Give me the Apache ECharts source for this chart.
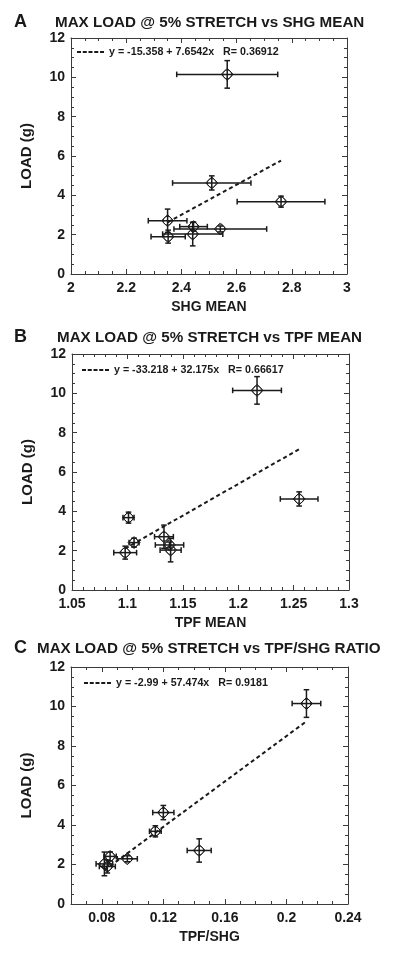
<!DOCTYPE html>
<html>
<head>
<meta charset="utf-8">
<script src="https://cdn.jsdelivr.net/npm/echarts@6/dist/echarts.min.js"></script>
<style>
html,body{margin:0;padding:0;background:#fff;}
#chart{width:400px;height:958px;}
</style>
</head>
<body>
<div id="chart"></div>
<script>
// ---- data ----
const loadMean  = [10.15, 4.63, 3.68, 2.71, 2.41, 2.29, 2.03, 1.90];
const loadErr   = [0.70, 0.36, 0.28, 0.59, 0.23, 0.15, 0.60, 0.33];
const shgMean   = [2.566, 2.510, 2.761, 2.350, 2.444, 2.541, 2.441, 2.352];
const shgErr    = [0.183, 0.142, 0.159, 0.070, 0.050, 0.168, 0.109, 0.062];
const tpfMean   = [1.217, 1.255, 1.101, 1.133, 1.106, 1.138, 1.139, 1.098];
const tpfErr    = [0.022, 0.017, 0.005, 0.0085, 0.0045, 0.0128, 0.0095, 0.0103];
const ratioMean = [0.213, 0.120, 0.1148, 0.1433, 0.0854, 0.0966, 0.0817, 0.0836];
const ratioErr  = [0.0093, 0.0069, 0.0038, 0.0078, 0.0040, 0.0065, 0.0054, 0.0052];

const fitA = [[2.350, 2.63], [2.761, 5.77]];
const fitB = [[1.098, 2.11], [1.255, 7.16]];
const fitC = [[0.0817, 1.71], [0.213, 9.25]];

const fitLabelA = 'y = -15.358 + 7.6542x   R= 0.36912';
const fitLabelB = 'y = -33.218 + 32.175x   R= 0.66617';
const fitLabelC = 'y = -2.99 + 57.474x   R= 0.9181';

const titleA = 'MAX LOAD @ 5% STRETCH vs SHG MEAN';
const titleB = 'MAX LOAD @ 5% STRETCH vs TPF MEAN';
const titleC = 'MAX LOAD @ 5% STRETCH vs TPF/SHG RATIO';
const panelLetters = ['A', 'B', 'C'];
const xNames = ['SHG MEAN', 'TPF MEAN', 'TPF/SHG'];
const yName = 'LOAD (g)';

const loadTicks  = [0, 2, 4, 6, 8, 10, 12];
const shgTicks   = [2, 2.2, 2.4, 2.6, 2.8, 3];
const tpfTicks   = [1.05, 1.1, 1.15, 1.2, 1.25, 1.3];
const ratioTicks = [0.08, 0.12, 0.16, 0.2, 0.24];

// ---- layout / style ----
const FONT = 'Liberation Sans, Arial, sans-serif';
const INK = '#1a1a1a';
const FRAME = '#3a3a3a';
// dashed legend sample (5 dashes)
const DASH_ICON = 'path://M0 0h4v2H0z M5.75 0h4v2h-4z M11.5 0h4v2h-4z M17.25 0h4v2h-4z M23 0h4v2h-4z';

const panels = [
  {grid:{left:71, top:38, width:276, height:236}, xMin:2, xMax:3, xMinor:0.05, xTicks:shgTicks,
   xs:shgMean, xe:shgErr, fit:fitA, fitLabel:fitLabelA, title:titleA,
   titleLeft:55, titleTop:15, legendLeft:77, legendTop:46},
  {grid:{left:72, top:354, width:277, height:236}, xMin:1.05, xMax:1.3, xMinor:0.01, xTicks:tpfTicks,
   xs:tpfMean, xe:tpfErr, fit:fitB, fitLabel:fitLabelB, title:titleB,
   titleLeft:57, titleTop:330, legendLeft:82, legendTop:364},
  {grid:{left:71, top:667, width:277, height:237}, xMin:0.06, xMax:0.24, xMinor:0.01, xTicks:ratioTicks,
   xs:ratioMean, xe:ratioErr, fit:fitC, fitLabel:fitLabelC, title:titleC,
   titleLeft:37, titleTop:641, legendLeft:84, legendTop:677}
];

function fmt(v){ return String(parseFloat((+v).toFixed(4))); }

const grids = [], xAxes = [], yAxes = [], series = [], titles = [], legends = [];

function renderErr(params, api) {
  const x = api.value(0), y = api.value(1), ex = api.value(2), ey = api.value(3);
  const c = api.coord([x, y]);
  const l = api.coord([x - ex, y]), r = api.coord([x + ex, y]);
  const t = api.coord([x, y + ey]), b = api.coord([x, y - ey]);
  const cap = 2.8, d = 6, st = {stroke: INK, lineWidth: 1.5, fill: null};
  const ln = (x1,y1,x2,y2) => ({type:'line', shape:{x1,y1,x2,y2}, style:st});
  return {type:'group', children:[
    {type:'polygon', shape:{points:[[c[0],c[1]-d],[c[0]+d,c[1]],[c[0],c[1]+d],[c[0]-d,c[1]]]},
     style:{stroke:INK, lineWidth:1, fill:'rgba(0,0,0,0)'}},
    {type:'circle', shape:{cx:c[0], cy:c[1], r:4.4}, style:{stroke:INK, lineWidth:0.9, fill:'rgba(0,0,0,0)'}},
    ln(l[0], l[1], r[0], r[1]),
    ln(t[0], t[1], b[0], b[1]),
    ln(l[0], l[1]-cap, l[0], l[1]+cap),
    ln(r[0], r[1]-cap, r[0], r[1]+cap),
    ln(t[0]-cap, t[1], t[0]+cap, t[1]),
    ln(b[0]-cap, b[1], b[0]+cap, b[1])
  ]};
}

panels.forEach((p, g) => {
  grids.push(p.grid);
  const base = g * 4;
  const xCommon = {type:'value', gridIndex:g, min:p.xMin, max:p.xMax, splitLine:{show:false}};
  xAxes.push(Object.assign({}, xCommon, {
    position:'bottom',
    name:xNames[g], nameLocation:'middle', nameGap:26,
    nameTextStyle:{fontFamily:FONT, fontWeight:'bold', fontSize:14, color:INK},
    axisLine:{show:true, onZero:false, lineStyle:{color:FRAME, width:1}},
    axisTick:{show:true, inside:true, length:5, customValues:p.xTicks, lineStyle:{color:FRAME}},
    axisLabel:{show:true, customValues:p.xTicks, formatter:fmt, margin:7,
      fontFamily:FONT, fontWeight:'bold', fontSize:14, color:INK}
  }));
  xAxes.push(Object.assign({}, xCommon, {
    position:'bottom', interval:p.xMinor,
    axisLine:{show:false, onZero:false},
    axisTick:{show:true, inside:true, length:3, lineStyle:{color:FRAME}},
    axisLabel:{show:false}
  }));
  xAxes.push(Object.assign({}, xCommon, {
    position:'top',
    axisLine:{show:true, onZero:false, lineStyle:{color:FRAME, width:1}},
    axisTick:{show:true, inside:true, length:5, customValues:p.xTicks, lineStyle:{color:FRAME}},
    axisLabel:{show:false}
  }));
  xAxes.push(Object.assign({}, xCommon, {
    position:'top', interval:p.xMinor,
    axisLine:{show:false, onZero:false},
    axisTick:{show:true, inside:true, length:3, lineStyle:{color:FRAME}},
    axisLabel:{show:false}
  }));
  const yCommon = {type:'value', gridIndex:g, min:0, max:12, splitLine:{show:false}};
  yAxes.push(Object.assign({}, yCommon, {
    position:'left',
    name:yName, nameLocation:'middle', nameGap:37, nameRotate:90,
    nameTextStyle:{fontFamily:FONT, fontWeight:'bold', fontSize:15, color:INK},
    axisLine:{show:true, onZero:false, lineStyle:{color:FRAME, width:1}},
    axisTick:{show:true, inside:true, length:5, customValues:loadTicks, lineStyle:{color:FRAME}},
    axisLabel:{show:true, customValues:loadTicks, formatter:fmt, margin:6,
      fontFamily:FONT, fontWeight:'bold', fontSize:14, color:INK}
  }));
  yAxes.push(Object.assign({}, yCommon, {
    position:'left', interval:0.5,
    axisLine:{show:false, onZero:false},
    axisTick:{show:true, inside:true, length:3, lineStyle:{color:FRAME}},
    axisLabel:{show:false}
  }));
  yAxes.push(Object.assign({}, yCommon, {
    position:'right',
    axisLine:{show:true, onZero:false, lineStyle:{color:FRAME, width:1}},
    axisTick:{show:true, inside:true, length:5, customValues:loadTicks, lineStyle:{color:FRAME}},
    axisLabel:{show:false}
  }));
  yAxes.push(Object.assign({}, yCommon, {
    position:'right', interval:0.5,
    axisLine:{show:false, onZero:false},
    axisTick:{show:true, inside:true, length:3, lineStyle:{color:FRAME}},
    axisLabel:{show:false}
  }));

  series.push({
    type:'line', name:p.fitLabel, xAxisIndex:base, yAxisIndex:base,
    data:p.fit, symbol:'none', silent:true,
    itemStyle:{color:INK},
    lineStyle:{color:INK, width:2, type:[4,3]}, z:2
  });
  series.push({
    type:'custom', xAxisIndex:base, yAxisIndex:base,
    data:p.xs.map((x, i) => [x, loadMean[i], p.xe[i], loadErr[i]]),
    encode:{x:0, y:1}, renderItem:renderErr, silent:true, z:3
  });

  titles.push({text:panelLetters[g], left:14, top:p.titleTop - 2, padding:0,
    textStyle:{fontFamily:FONT, fontWeight:'bold', fontSize:18, color:INK}});
  titles.push({text:p.title, left:p.titleLeft, top:p.titleTop, padding:0,
    textStyle:{fontFamily:FONT, fontWeight:'bold', fontSize:15.2, color:INK}});

  legends.push({data:[{name:p.fitLabel, icon:DASH_ICON}], left:p.legendLeft, top:p.legendTop, padding:0,
    itemWidth:27, itemHeight:2, itemGap:4, selectedMode:false,
    itemStyle:{color:INK},
    textStyle:{fontFamily:FONT, fontWeight:'bold', fontSize:10.7, color:INK, lineHeight:12}});
});

const chart = echarts.init(document.getElementById('chart'), null, {renderer:'canvas'});
chart.setOption({
  animation:false,
  backgroundColor:'#fff',
  title:titles,
  legend:legends,
  grid:grids,
  xAxis:xAxes,
  yAxis:yAxes,
  series:series
});
</script>
</body>
</html>
